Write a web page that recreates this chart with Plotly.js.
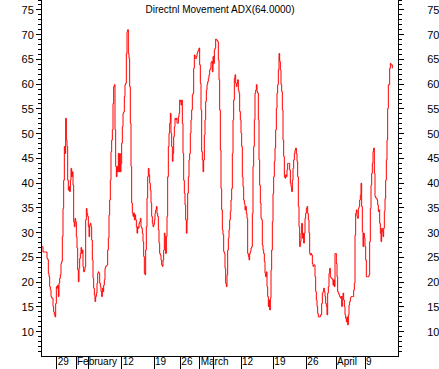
<!DOCTYPE html>
<html><head><meta charset="utf-8">
<script src="https://cdn.plot.ly/plotly-3.0.1.min.js"></script>
<style>html,body{margin:0;padding:0;background:#fff;overflow:hidden}#chart{width:439px;height:369px}</style>
</head><body><div id="chart"></div>
<script>
// ADX values, one per bar
const adx = [
27.2,26.1,26.1,26.1,26.1,26.1,26.1,24.8,24.6,21.8,
21.1,19.1,18.5,17.1,16.8,16.8,15.1,14.0,13.4,13.0,
15.7,19.1,18.8,19.4,17.1,19.8,20.8,21.5,23.8,24.2,
29.2,34.9,40.6,47.4,46.0,53.1,48.7,47.4,40.6,38.6,
39.3,38.3,40.6,43.0,41.3,42.3,39.6,32.2,31.2,32.9,
32.2,29.2,26.9,22.5,20.1,22.8,24.8,25.8,27.0,25.8,
26.5,23.1,22.1,22.5,23.1,32.6,34.9,33.9,33.3,31.2,
29.2,31.6,31.9,31.2,28.5,24.5,20.8,18.8,17.4,16.1,
17.1,17.8,19.8,21.8,22.1,21.8,19.8,19.1,18.1,17.1,
18.8,18.1,19.4,20.5,22.8,23.2,23.3,23.5,26.5,28.9,
33.6,36.6,40.6,46.4,48.7,50.8,56.1,59.5,59.9,
50.8,43.4,41.3,43.4,42.3,46.0,42.3,46.0,42.3,44.0,
48.1,51.4,54.1,54.4,57.5,59.9,60.2,66.2,70.6,71.0,
66.2,65.2,59.5,52.1,43.4,36.0,34.0,33.3,34.0,32.6,
33.6,32.6,31.2,29.9,31.2,30.9,31.9,32.2,32.9,31.2,
30.9,29.9,28.2,25.2,21.8,21.5,26.5,31.2,37.0,41.3,
43.0,41.7,40.0,38.6,36.0,33.3,31.9,31.2,31.6,32.6,
33.9,34.6,35.3,33.9,33.3,30.6,27.9,25.8,25.5,24.5,
23.5,23.2,24.5,26.5,29.9,29.2,25.8,29.2,33.3,41.3,
47.4,50.1,52.1,54.1,50.1,47.4,44.4,46.0,49.4,51.4,
53.1,52.8,53.1,52.1,52.1,53.4,54.1,56.8,56.5,55.8,
56.8,52.1,46.0,40.6,38.0,35.6,32.6,
29.9,32.6,38.0,41.3,44.7,46.0,50.1,52.8,54.8,57.8,
58.2,63.2,65.9,65.2,65.2,65.6,66.2,66.6,66.9,67.3,
63.9,60.2,54.8,46.4,44.7,42.3,44.7,49.7,52.8,56.5,
58.8,59.9,60.5,61.2,61.9,62.9,63.2,64.4,64.6,62.5,
65.6,64.2,66.9,67.3,69.1,68.9,68.9,68.6,64.9,60.9,
54.8,46.7,38.9,34.6,30.6,29.6,26.2,25.8,22.8,19.8,
19.1,21.5,26.5,28.9,30.6,32.6,34.3,36.6,38.9,46.0,
52.8,56.8,61.2,61.9,60.2,59.5,60.2,60.9,58.8,58.2,
54.5,52.8,50.1,47.4,41.3,39.3,36.6,35.9,34.6,35.3,
33.9,32.9,25.8,25.2,24.5,25.8,26.2,26.9,27.2,33.9,
43.4,47.4,52.8,58.2,58.8,59.9,58.5,58.2,52.8,44.7,
39.6,
36.0,32.9,32.6,27.5,26.5,25.8,24.2,21.8,21.1,22.1,
19.1,17.1,15.1,16.4,14.4,16.8,22.5,26.5,32.2,37.9,
41.3,44.4,47.1,50.8,55.1,58.2,59.9,62.9,66.2,64.6,
62.9,59.9,58.5,54.8,48.7,45.4,41.3,41.0,41.7,41.3,
42.7,44.0,44.0,44.0,42.7,40.0,39.3,38.3,40.6,43.0,
44.7,46.0,46.7,47.1,46.0,44.4,41.3,35.3,31.2,27.2,
28.2,29.9,31.9,28.9,29.9,27.9,29.9,32.9,33.9,34.9,
35.3,33.9,32.6,29.9,25.8,25.5,25.8,25.5,23.8,23.2,
23.5,23.5,21.1,18.1,16.4,15.1,13.7,13.0,13.0,13.0,
13.4,13.4,15.7,17.8,18.1,18.8,18.1,17.1,15.7,15.1,
13.4,17.8,19.1,21.8,22.8,21.1,
20.8,20.8,20.5,19.4,20.5,19.1,25.8,25.8,23.8,21.1,
18.1,17.8,17.4,17.1,16.8,17.1,15.1,17.1,17.8,16.4,
15.1,13.4,12.7,12.0,13.0,11.4,13.4,15.4,16.1,16.8,
17.1,17.1,17.1,17.1,18.4,19.8,29.5,33.9,34.6,33.3,
32.9,34.9,35.3,36.6,37.6,40.0,35.3,30.2,27.2,29.9,
28.9,27.2,24.5,21.1,21.1,21.1,21.1,21.5,28.2,34.9,
39.6,42.0,44.0,46.4,47.1,42.0,37.3,37.0,37.0,36.6,
35.6,34.3,34.6,31.9,29.9,28.2,30.9,30.2,29.2,30.9,
34.3,36.9,40.6,44.7,48.7,55.1,59.9,59.9,63.2,64.2,
63.9,63.9,63.2
];
// bar number at which each date tick falls, and its label
const tickBars = [21.5, 50.5, 68.5, 119, 167.5, 207, 236, 257, 298, 346.5, 396, 440.5, 484];
const tickText = ['29', 'February', '', '12', '19', '26', 'March', '', '12', '19', '26', 'April', '9'];
const titleText = 'Directnl Movement ADX(64.0000)';

const bars = adx.map((_, i) => i);
const fontFam = '"Liberation Sans", Arial, sans-serif';
const yRange = [5.1, 77.0];

function yAxis(extra) {
  return Object.assign({
    range: yRange, tick0: 0, dtick: 5,
    showgrid: false, zeroline: false,
    showline: true, linecolor: '#000', linewidth: 1,
    ticks: 'outside', ticklen: 5, tickwidth: 1, tickcolor: '#000',
    minor: {dtick: 1, ticks: 'outside', ticklen: 3, tickwidth: 1, tickcolor: '#000', showgrid: false},
    tickfont: {family: fontFam, size: 11, color: '#000'},
    fixedrange: true
  }, extra);
}

const layout = {
  width: 439, height: 369,
  margin: {l: 42, r: 41, t: 0, b: 13, pad: 0},
  paper_bgcolor: '#fff', plot_bgcolor: '#fff',
  showlegend: false,
  title: {text: titleText, font: {family: fontFam, size: 10, color: '#000'},
          xref: 'paper', x: 0.5, xanchor: 'center', yref: 'container', y: 1 - 9/369, yanchor: 'middle'},
  xaxis: {
    range: [-0.5, 533.5], tickmode: 'array', tickvals: tickBars, ticktext: tickText,
    showgrid: false, zeroline: false, showline: true, linecolor: '#000', linewidth: 1,
    ticks: 'outside', ticklen: 14, tickwidth: 1, tickcolor: '#000',
    tickangle: 0,
    ticklabelposition: 'outside right', ticklabelstandoff: -4,
    tickfont: {family: fontFam, size: 10, color: '#000'},
    fixedrange: true
  },
  yaxis: yAxis({side: 'left'}),
  yaxis2: yAxis({side: 'right', overlaying: 'y', anchor: 'x', ticklabelstandoff: 21})
};

const traces = [
  {x: bars, y: adx, type: 'scatter', mode: 'lines', line: {color: '#ff0000', width: 1, shape: 'hv'}, hoverinfo: 'skip'},
  {x: [bars[0]], y: [adx[0]], yaxis: 'y2', type: 'scatter', mode: 'markers', marker: {opacity: 0}, hoverinfo: 'skip'}
];

Plotly.newPlot('chart', traces, layout, {staticPlot: true, displayModeBar: false});
</script>
</body></html>
